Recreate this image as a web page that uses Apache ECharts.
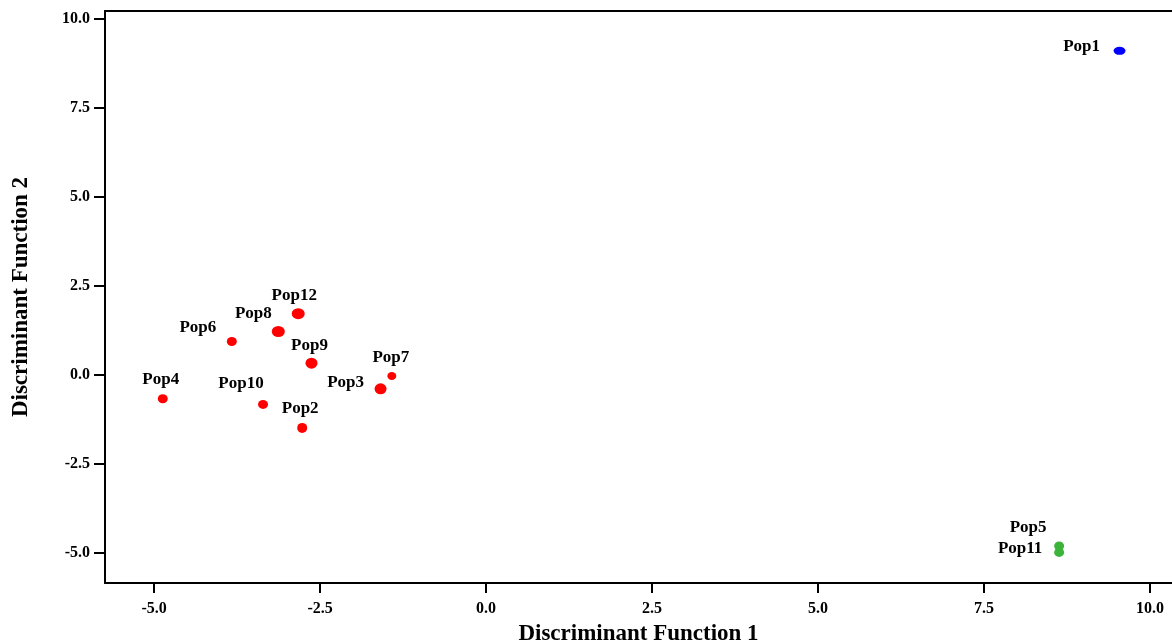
<!DOCTYPE html>
<html>
<head>
<meta charset="utf-8">
<script src="https://cdn.jsdelivr.net/npm/echarts@6/dist/echarts.min.js"></script>
<style>
html,body{margin:0;padding:0;background:#fff;}
#chart{width:1172px;height:642px;}
</style>
</head>
<body>
<div id="chart"></div>
<script>
// ---- data ----
const popNames = ['Pop1','Pop2','Pop3','Pop4','Pop5','Pop6','Pop7','Pop8','Pop9','Pop10','Pop11','Pop12'];
const df1Values = [9.54, -2.77, -1.59, -4.87, 8.63, -3.83, -1.42, -3.13, -2.63, -3.36, 8.63, -2.83];
const df2Values = [9.10, -1.50, -0.40, -0.68, -4.82, 0.93, -0.04, 1.21, 0.32, -0.84, -5.00, 1.71];
const popGroups = ['A','B','B','B','C','B','B','B','B','B','C','B'];
const xTickValues = [-5, -2.5, 0, 2.5, 5, 7.5, 10];
const yTickValues = [-5, -2.5, 0, 2.5, 5, 7.5, 10];

// ---- styles / layout (not data) ----
const groupColors = {A:'#0000ff', B:'#ff0000', C:'#3cb43c'};
const markerSizes = {Pop1:[12,8],Pop2:[10,10],Pop3:[12,11],Pop4:[10,9],Pop5:[10,9],Pop6:[10,9],Pop7:[9,8],Pop8:[13,11],Pop9:[12,11],Pop10:[10,9],Pop11:[10,9],Pop12:[13,11]};
const labelOffsets = {Pop1:[-38,-4],Pop2:[-2,-19],Pop3:[-35,-6],Pop4:[-2,-19],Pop5:[-31,-18],Pop6:[-34,-14],Pop7:[-1,-18],Pop8:[-25,-18],Pop9:[-2,-18],Pop10:[-22,-21],Pop11:[-39,-4],Pop12:[-4,-18]};

const serif = '"Liberation Serif","Times New Roman",serif';
const points = popNames.map((n,i)=>({
  name:n,
  value:[df1Values[i], df2Values[i]],
  symbolSize: markerSizes[n],
  itemStyle:{color:groupColors[popGroups[i]], opacity:1},
  label:{show:true, position:'inside', offset:labelOffsets[n], formatter:n,
         color:'#000', opacity:1, fontFamily:serif, fontWeight:'bold', fontSize:17}
}));

const fmt = v => v.toFixed(1);
const chart = echarts.init(document.getElementById('chart'));
chart.setOption({
  animation:false,
  grid:{left:105, top:11, right:0, bottom:59, containLabel:false, outerBoundsMode:'none'},
  xAxis:[{
    type:'value', min:-5.74, max:10.33,
    name:'Discriminant Function 1', nameLocation:'middle', nameGap:40,
    nameTextStyle:{fontFamily:serif, fontWeight:'bold', fontSize:23, color:'#000'},
    axisLine:{show:true, onZero:false, lineStyle:{color:'#000', width:2}},
    axisTick:{show:true, length:10, inside:false, customValues:xTickValues, lineStyle:{color:'#000', width:2}},
    axisLabel:{show:true, customValues:xTickValues, formatter:fmt, margin:18,
      fontFamily:serif, fontWeight:'bold', fontSize:16, color:'#000'},
    splitLine:{show:false}
  },{
    type:'value', position:'top', min:-5.74, max:10.33,
    axisLine:{show:true, onZero:false, lineStyle:{color:'#000', width:2}},
    axisTick:{show:false}, axisLabel:{show:false}, splitLine:{show:false}
  }],
  yAxis:{
    type:'value', min:-5.86, max:10.22,
    name:'Discriminant Function 2', nameLocation:'middle', nameGap:72, nameRotate:90,
    nameTextStyle:{fontFamily:serif, fontWeight:'bold', fontSize:23, color:'#000'},
    axisLine:{show:true, onZero:false, lineStyle:{color:'#000', width:2}},
    axisTick:{show:true, length:11, inside:false, customValues:yTickValues, lineStyle:{color:'#000', width:2}},
    axisLabel:{show:true, customValues:yTickValues, formatter:fmt, margin:15,
      fontFamily:serif, fontWeight:'bold', fontSize:16, color:'#000'},
    splitLine:{show:false}
  },
  series:[{
    type:'scatter', symbol:'circle', xAxisIndex:0, data:points,
    itemStyle:{opacity:1}
  }]
});
</script>
</body>
</html>
